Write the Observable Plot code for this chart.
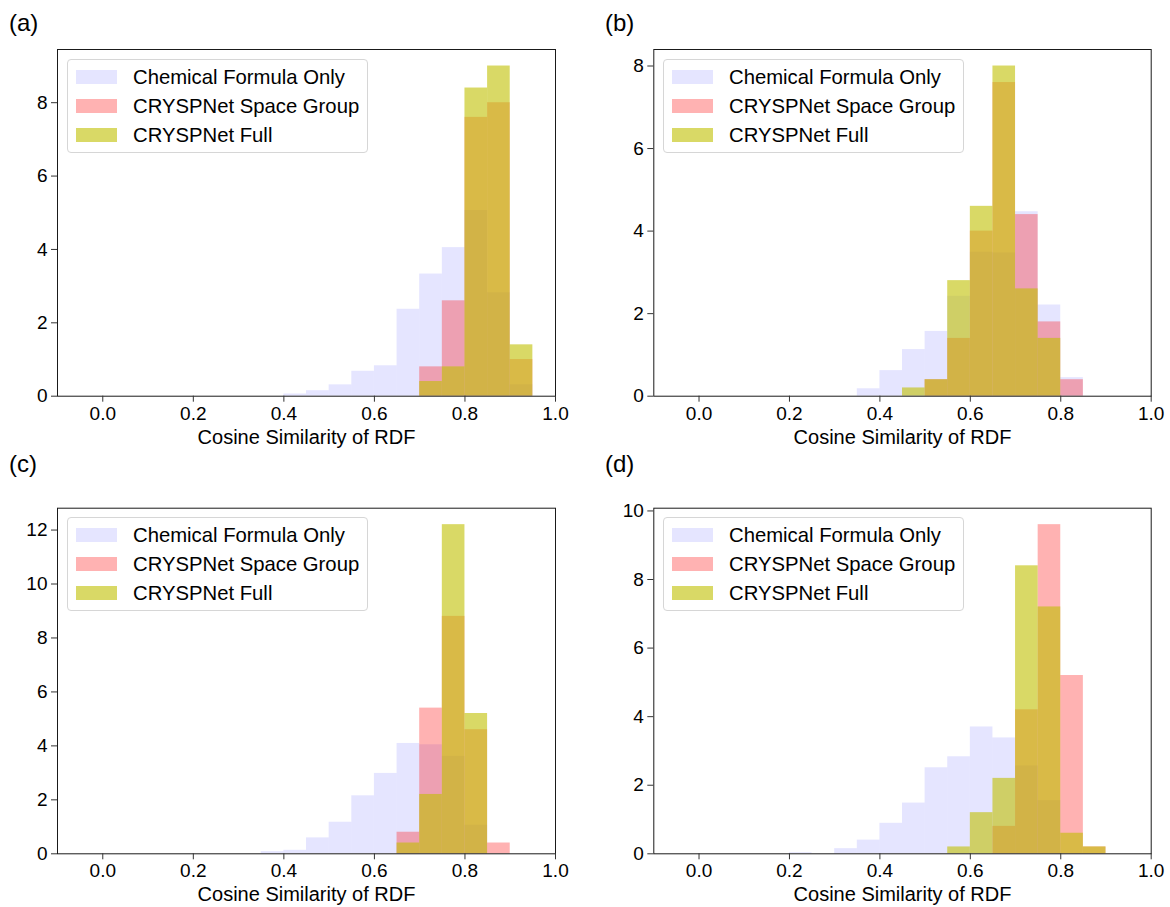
<!DOCTYPE html>
<html>
<head>
<meta charset="utf-8">
<script src="https://cdn.jsdelivr.net/npm/d3@7"></script>
<script src="https://cdn.jsdelivr.net/npm/@observablehq/plot@0.6"></script>
<style>
  body { margin: 0; background: #fff; }
  #fig { position: relative; width: 1170px; height: 907px; overflow: hidden;
         font-family: "Liberation Sans", Arial, Helvetica, sans-serif; color: #000; }
  .panel { position: absolute; }
  .tag { position: absolute; font-size: 24px; line-height: 1; }
  .legend { position: absolute; box-sizing: border-box; width: 301px; height: 94px;
            border: 1px solid #d6d6d6; border-radius: 4px; background: rgba(255,255,255,0.8); }
  .legend .row { position: absolute; left: 0; height: 20px; }
  .legend .sw { position: absolute; left: 8px; top: 3px; width: 41px; height: 14px; }
  .legend .lab { position: absolute; left: 65px; top: -2px; font-size: 20.3px; white-space: nowrap; line-height: 24px; }
</style>
</head>
<body>
<div id="fig"></div>
<script>
// Histogram bins: 20 bins of width 0.05 on [0, 1]; values are densities.
const binWidth = 0.05;
const xTicks = [0.0, 0.2, 0.4, 0.6, 0.8, 1.0];
const xLabel = "Cosine Similarity of RDF";
const seriesNames = ["Chemical Formula Only", "CRYSPNet Space Group", "CRYSPNet Full"];

// (a)
const chemA = [0,0,0,0,0,0,0,0,0.06,0.15,0.31,0.68,0.83,2.37,3.33,4.05,5.06,2.82,0.31,0];
const sgA   = [0,0,0,0,0,0,0,0,0,0,0,0,0,0,0.8,2.6,7.6,8.0,1.0,0];
const fullA = [0,0,0,0,0,0,0,0,0,0,0,0,0,0,0.4,0.8,8.4,9.0,1.4,0];
const yTicksA = [0, 2, 4, 6, 8];

// (b)
const chemB = [0,0,0,0,0,0,0,0.18,0.62,1.13,1.57,2.42,3.49,3.47,4.47,2.21,0.45,0,0,0];
const sgB   = [0,0,0,0,0,0,0,0,0,0,0.4,1.4,4.0,7.6,4.4,1.8,0.4,0,0,0];
const fullB = [0,0,0,0,0,0,0,0,0,0.2,0.4,2.8,4.6,8.0,2.6,1.4,0,0,0,0];
const yTicksB = [0, 2, 4, 6, 8];

// (c)
const chemC = [0,0,0,0,0,0,0,0.08,0.13,0.59,1.17,2.15,2.98,4.09,4.04,3.61,1.06,0,0,0];
const sgC   = [0,0,0,0,0,0,0,0,0,0,0,0,0,0.8,5.4,8.8,4.6,0.4,0,0];
const fullC = [0,0,0,0,0,0,0,0,0,0,0,0,0,0.4,2.2,12.2,5.2,0,0,0];
const yTicksC = [0, 2, 4, 6, 8, 10, 12];

// (d)
const chemD = [0,0,0,0,0.03,0,0.15,0.40,0.89,1.48,2.51,2.83,3.70,3.38,2.56,1.55,0,0,0,0];
const sgD   = [0,0,0,0,0,0,0,0,0,0,0,0,0,0.8,4.2,9.6,5.2,0.2,0,0];
const fullD = [0,0,0,0,0,0,0,0,0,0,0,0.2,1.2,2.2,8.4,7.2,0.6,0.2,0,0];
const yTicksD = [0, 2, 4, 6, 8, 10];

// fill colours (drawn in this order, semi-transparent)
const fills = [
  {color: "rgb(0,0,255)", opacity: 0.1},
  {color: "rgb(255,0,0)", opacity: 0.3},
  {color: "rgb(191,191,0)", opacity: 0.6}
];

const panels = [
  {tag: "(a)", series: [chemA, sgA, fullA], yTicks: yTicksA,
   box: {left: 0, top: 0, w: 585, h: 453, ml: 57, mr: 30, mt: 49, mb: 57.3},
   tagPos: [9, 11], legendPos: [67, 59]},
  {tag: "(b)", series: [chemB, sgB, fullB], yTicks: yTicksB,
   box: {left: 585, top: 0, w: 585, h: 453, ml: 68.3, mr: 19.3, mt: 49, mb: 57.3},
   tagPos: [605, 11], legendPos: [663, 59]},
  {tag: "(c)", series: [chemC, sgC, fullC], yTicks: yTicksC,
   box: {left: 0, top: 453, w: 585, h: 454, ml: 57, mr: 30, mt: 54.7, mb: 53.7},
   tagPos: [9, 452], legendPos: [67, 517]},
  {tag: "(d)", series: [chemD, sgD, fullD], yTicks: yTicksD,
   box: {left: 585, top: 453, w: 585, h: 454, ml: 68.3, mr: 19.3, mt: 54.7, mb: 53.7},
   tagPos: [605, 452], legendPos: [663, 517]}
];

const fig = document.getElementById("fig");
const font = '"Liberation Sans", Arial, Helvetica, sans-serif';

function binRows(values) {
  return values
    .map((v, i) => ({x1: i * binWidth, x2: (i + 1) * binWidth, y: v}))
    .filter(d => d.y > 0);
}

for (const p of panels) {
  const yMax = d3.max(p.series.flat()) * 1.05;
  const b = p.box;
  const chart = Plot.plot({
    width: b.w, height: b.h,
    marginLeft: b.ml, marginRight: b.mr, marginTop: b.mt, marginBottom: b.mb,
    style: {fontFamily: font, fontSize: "19px", color: "#000", background: "#fff", overflow: "visible"},
    x: {domain: [-0.1, 1.0]},
    y: {domain: [0, yMax]},
    marks: [
      ...p.series.map((vals, k) => Plot.rectY(binRows(vals), {
        x1: "x1", x2: "x2", y: "y", inset: 0,
        fill: fills[k].color, fillOpacity: fills[k].opacity
      })),
      Plot.frame({stroke: "#1a1a1a", strokeWidth: 1}),
      Plot.axisX({ticks: xTicks, tickFormat: d3.format(".1f"), tickSize: 6, tickPadding: 4,
                  label: null, fontSize: 19, stroke: "#333"}),
      Plot.axisY({ticks: p.yTicks, tickFormat: d3.format("d"), tickSize: 6, tickPadding: 4,
                  label: null, fontSize: 19, stroke: "#333"}),
      Plot.text([xLabel], {frameAnchor: "bottom", dy: 41, lineAnchor: "middle", fontSize: 20, fill: "#000"})
    ]
  });
  const holder = document.createElement("div");
  holder.className = "panel";
  holder.style.left = b.left + "px";
  holder.style.top = b.top + "px";
  holder.appendChild(chart);
  fig.appendChild(holder);

  const tag = document.createElement("div");
  tag.className = "tag";
  tag.textContent = p.tag;
  tag.style.left = p.tagPos[0] + "px";
  tag.style.top = p.tagPos[1] + "px";
  fig.appendChild(tag);

  const leg = document.createElement("div");
  leg.className = "legend";
  leg.style.left = p.legendPos[0] + "px";
  leg.style.top = p.legendPos[1] + "px";
  seriesNames.forEach((name, k) => {
    const row = document.createElement("div");
    row.className = "row";
    row.style.top = (7 + k * 29) + "px";
    const sw = document.createElement("div");
    sw.className = "sw";
    sw.style.background = fills[k].color;
    sw.style.opacity = fills[k].opacity;
    const lab = document.createElement("div");
    lab.className = "lab";
    lab.textContent = name;
    row.appendChild(sw);
    row.appendChild(lab);
    leg.appendChild(row);
  });
  fig.appendChild(leg);
}
</script>
</body>
</html>
